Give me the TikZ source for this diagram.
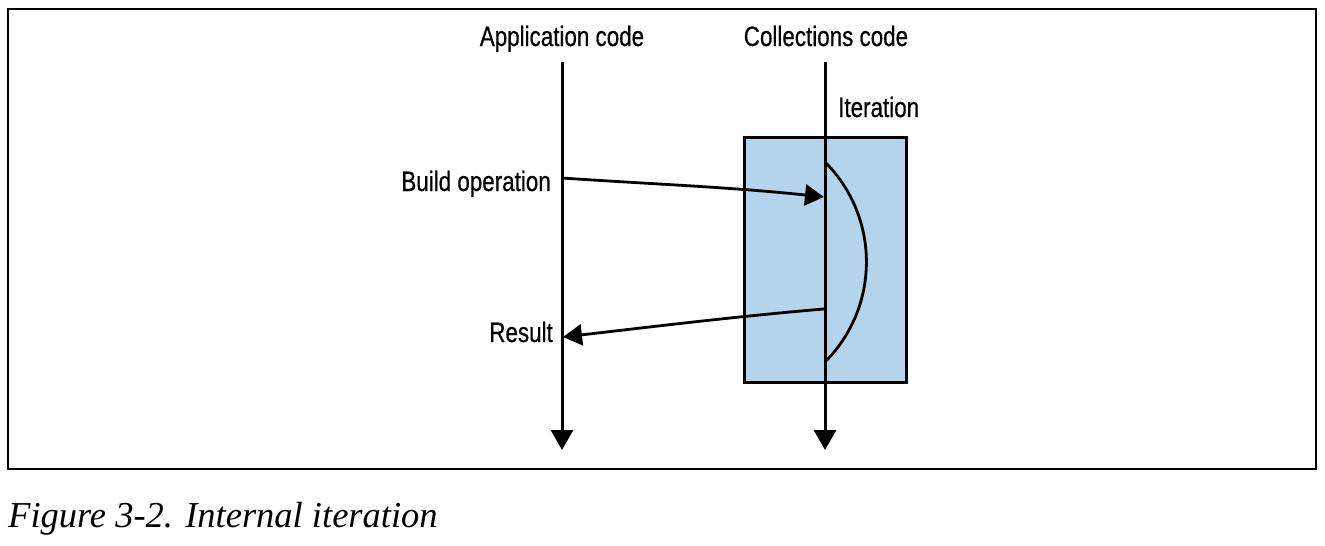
\documentclass[tikz,border=0pt]{standalone}
\usepackage{fontspec}
\usetikzlibrary{arrows.meta}
\newfontfamily\condsans[FakeStretch=0.8,FakeBold=0.5]{Liberation Sans}
\newfontfamily\capserif{Liberation Serif}
\definecolor{boxblue}{HTML}{B3D4EA}
\begin{document}
\begin{tikzpicture}[x=1pt,y=-1pt,
  lbl/.style={font=\condsans\fontsize{28}{32}\selectfont, inner sep=0pt},
  lifeline/.style={line width=3pt, -{Triangle[length=20pt,width=22pt]}},
  msg/.style={line width=2.8pt, -{Triangle[length=19pt,width=21pt]}},
  iterbox/.style={draw, line width=3pt, fill=boxblue, minimum width=162pt, minimum height=245pt, inner sep=0pt}]
\useasboundingbox (0,0) rectangle (1325,546);
\draw[line width=1.3pt] (8,9) rectangle (1316,469);
% iteration box
\node[iterbox] (box) at (825,259.5) {};
% labels
\node[lbl, anchor=base] (app) at (562,46) {Application code};
\node[lbl, anchor=base] (coll) at (826,46) {Collections code};
\node[lbl, anchor=base west] (iter) at (838,117) {Iteration};
\node[lbl, anchor=base east] (build) at (551,191) {Build operation};
\node[lbl, anchor=base east] (res) at (553,342) {Result};
% lifelines
\coordinate (appTop) at (562,62);
\coordinate (appBot) at (562,450);
\coordinate (collTop) at (825,62);
\coordinate (collBot) at (825,450);
\draw[lifeline] (appTop) -- (appBot);
\draw[lifeline] (collTop) -- (collBot);
% iteration arc
\coordinate (arcS) at (825,162);
\draw[line width=2.8pt] (arcS) arc[start angle=-45, end angle=45, radius=141.4];
% messages
\coordinate (bS) at (562,178);
\coordinate (bE) at (824,197);
\draw[msg] (bS) .. controls (650,184) and (730,187) .. (bE);
\coordinate (rS) at (824,309);
\coordinate (rE) at (563,337);
\draw[msg] (rS) .. controls (740,316) and (650,327) .. (rE);
% caption
\node[anchor=base west, inner sep=0pt, font=\capserif\itshape\fontsize{36.5}{40}\selectfont] (cap) at (8,527) {Figure 3-2. Internal iteration};
\end{tikzpicture}
\end{document}
